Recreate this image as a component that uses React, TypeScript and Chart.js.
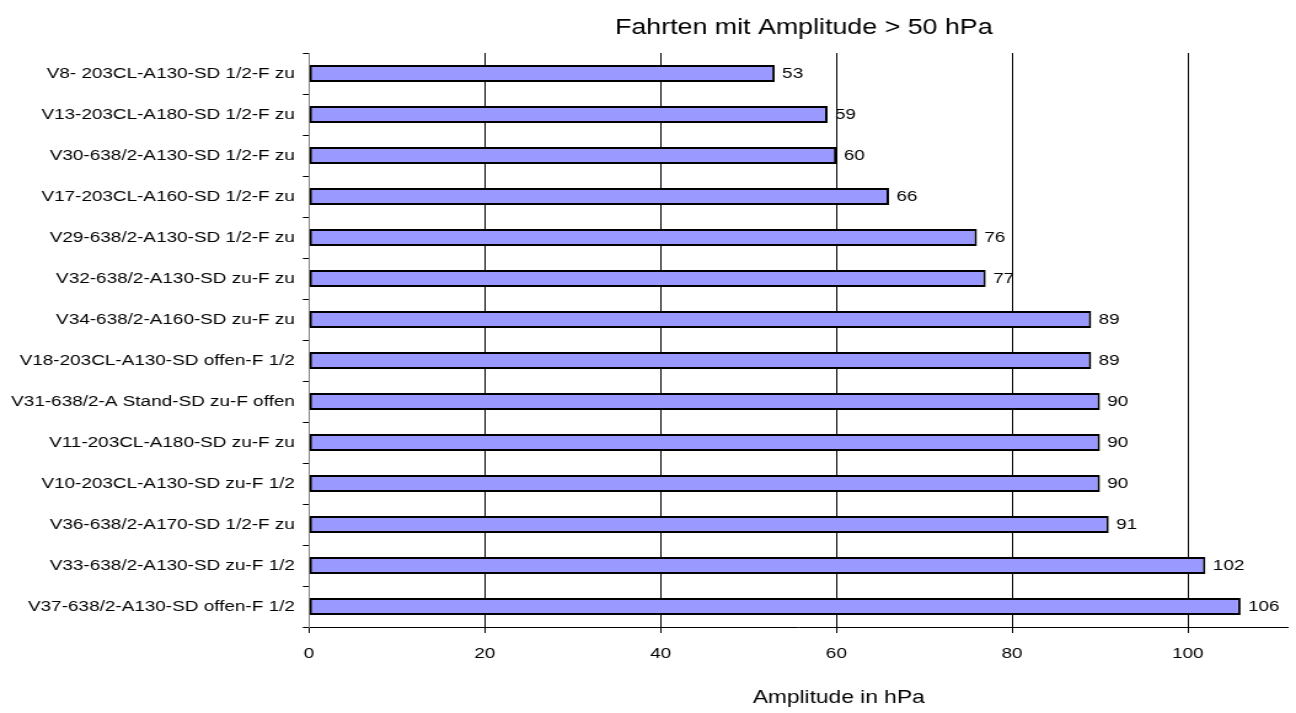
import React, { useEffect, useRef } from "react";
import { Chart, registerables } from "chart.js";

Chart.register(...registerables);

// ---- data ----
const categories = [
  "V8- 203CL-A130-SD 1/2-F zu",
  "V13-203CL-A180-SD 1/2-F zu",
  "V30-638/2-A130-SD 1/2-F zu",
  "V17-203CL-A160-SD 1/2-F zu",
  "V29-638/2-A130-SD 1/2-F zu",
  "V32-638/2-A130-SD zu-F zu",
  "V34-638/2-A160-SD zu-F zu",
  "V18-203CL-A130-SD offen-F 1/2",
  "V31-638/2-A Stand-SD zu-F offen",
  "V11-203CL-A180-SD zu-F zu",
  "V10-203CL-A130-SD zu-F 1/2",
  "V36-638/2-A170-SD 1/2-F zu",
  "V33-638/2-A130-SD zu-F 1/2",
  "V37-638/2-A130-SD offen-F 1/2",
];
const amplitudes = [53, 59, 60, 66, 76, 77, 89, 89, 90, 90, 90, 91, 102, 106];
const xTickValues = [0, 20, 40, 60, 80, 100];
const xMin = 0;
const xMax = 111.4;
const chartTitle = "Fahrten mit Amplitude > 50 hPa";
const xAxisTitle = "Amplitude in hPa";

// ---- rendering constants ----
const CSS_W = 1296;
const CSS_H = 713;
const STRETCH = 1.23; // source picture is horizontally stretched
const CANVAS_W = Math.round(CSS_W / STRETCH);
const CANVAS_H = CSS_H;
const FAMILY = '"Liberation Sans", Arial, Helvetica, sans-serif';
const LABEL_SIZE = 15.4;
const TITLE_SIZE = 21.8;
const AXIS_TITLE_SIZE = 18.5;

const annotate = {
  id: "annotate",
  afterDatasetsDraw(chart: any) {
    const ctx = chart.ctx;
    const meta = chart.getDatasetMeta(0);
    ctx.save();
    ctx.font = `${LABEL_SIZE}px ${FAMILY}`;
    ctx.fillStyle = "#000";
    ctx.textAlign = "left";
    ctx.textBaseline = "middle";
    meta.data.forEach((bar: any, i: number) => {
      ctx.fillText(String(amplitudes[i]), bar.x + 6, bar.y);
    });
    ctx.restore();
  },
  afterDraw(chart: any) {
    const ctx = chart.ctx;
    const area = chart.chartArea;
    const cx = (area.left + area.right) / 2;
    ctx.save();
    ctx.fillStyle = "#000";
    ctx.textAlign = "center";
    ctx.textBaseline = "alphabetic";
    ctx.font = `${TITLE_SIZE}px ${FAMILY}`;
    ctx.fillText(chartTitle, cx + 4.3, 34.3);
    ctx.font = `${AXIS_TITLE_SIZE}px ${FAMILY}`;
    ctx.fillText(xAxisTitle, cx + 32.7, 703.3);
    ctx.restore();
  },
};

export default function App() {
  const canvasRef = useRef<HTMLCanvasElement | null>(null);

  useEffect(() => {
    const canvas = canvasRef.current;
    if (!canvas) return;
    const font = { family: FAMILY, size: LABEL_SIZE };
    const chart = new Chart(canvas, {
      type: "bar",
      data: {
        labels: categories,
        datasets: [
          {
            data: amplitudes,
            backgroundColor: "#9999FF",
            borderColor: "#000000",
            borderWidth: 2,
            borderSkipped: false,
            barPercentage: 0.42,
            categoryPercentage: 1,
          },
        ],
      },
      options: {
        indexAxis: "y",
        responsive: false,
        maintainAspectRatio: false,
        animation: false,
        devicePixelRatio: 1,
        layout: { padding: { top: 53, right: 6.5, bottom: 0, left: 0 } },
        plugins: {
          legend: { display: false },
          tooltip: { enabled: false },
          title: { display: false },
        },
        scales: {
          x: {
            type: "linear",
            min: xMin,
            max: xMax,
            afterBuildTicks: (scale: any) => {
              scale.ticks = xTickValues.map((v) => ({ value: v }));
            },
            afterFit: (scale: any) => {
              scale.height = 86;
            },
            grid: {
              display: true,
              drawOnChartArea: true,
              drawTicks: true,
              tickLength: 6,
              lineWidth: 1,
              color: (c: any) => (c.tick && c.tick.value === 0 ? "#808080" : "#000000"),
              tickColor: "#000000",
            },
            border: { display: true, color: "#000000", width: 1 },
            ticks: {
              font,
              color: "#000000",
              padding: 11.3,
              maxRotation: 0,
              autoSkip: false,
            },
          },
          y: {
            type: "category",
            afterFit: (scale: any) => {
              scale.width = 251.3;
            },
            grid: {
              display: true,
              offset: true,
              drawOnChartArea: false,
              drawTicks: true,
              tickLength: 5,
              tickColor: "#000000",
            },
            border: { display: true, color: "#808080", width: 1 },
            ticks: {
              font,
              color: "#000000",
              padding: 6.5,
              autoSkip: false,
            },
          },
        },
      },
      plugins: [annotate],
    });
    return () => chart.destroy();
  }, []);

  return (
    <div style={{ position: "absolute", left: 0, top: 0, width: CSS_W, height: CSS_H, background: "#fff" }}>
      <canvas
        ref={canvasRef}
        width={CANVAS_W}
        height={CANVAS_H}
        style={{ width: `${CSS_W}px`, height: `${CSS_H}px`, display: "block" }}
      />
    </div>
  );
}
